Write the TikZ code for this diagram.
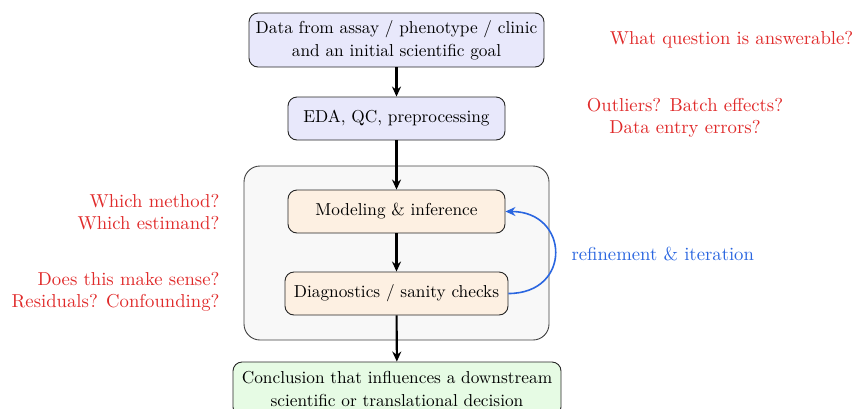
\documentclass[tikz,border=0pt]{standalone}
\usepackage{fontspec}
\setmainfont{lmroman10-regular.otf}
\usetikzlibrary{arrows.meta}
\definecolor{bluebox}{HTML}{E8E8FB}
\definecolor{orangebox}{HTML}{FDF0E2}
\definecolor{greenbox}{HTML}{E6FBE4}
\definecolor{graybox}{HTML}{F8F8F8}
\definecolor{redtxt}{HTML}{E02A2A}
\definecolor{bluetxt}{HTML}{2A66E0}
\begin{document}
\begin{tikzpicture}[x=1pt,y=-1pt,
  every node/.style={font=\fontsize{17.3}{23}\selectfont},
  stepbox/.style={draw=black!85, line width=0.9pt, rounded corners=9pt, align=center, inner sep=0pt},
  flow/.style={line width=2.1pt, -{Stealth[length=10pt,width=9pt]}},
  note/.style={text=redtxt, font=\fontsize{18.7}{22.5}\selectfont},
  ]
\useasboundingbox (0,0) rectangle (854,408);
\node[draw=black!75, line width=0.9pt, fill=graybox, rounded corners=16pt, minimum width=305pt, minimum height=174pt, inner sep=0pt] (frame) at (396.5,253) {};
\node[stepbox, fill=bluebox, minimum width=295pt, minimum height=54pt] (data) at (396.5,40) {Data from assay / phenotype / clinic\\and an initial scientific goal};
\node[stepbox, fill=bluebox, minimum width=217pt, minimum height=43pt] (eda) at (396.5,118.5) {EDA, QC, preprocessing};
\node[stepbox, fill=orangebox, minimum width=217pt, minimum height=43pt] (model) at (396.5,211.5) {Modeling \& inference};
\node[stepbox, fill=orangebox, minimum width=223pt, minimum height=43pt] (diag) at (396.5,293.5) {Diagnostics / sanity checks};
\node[stepbox, fill=greenbox, minimum width=328pt, minimum height=54pt] (concl) at (397,389) {Conclusion that influences a downstream\\scientific or translational decision};
\draw[flow] (data) -- (eda);
\draw[flow] (eda) -- (model);
\draw[flow] (model) -- (diag);
\draw[flow] (diag) -- (concl);
\draw[bluetxt, line width=1.6pt, -{Stealth[length=10pt,width=9pt]}] (diag.east) .. controls +(64,0) and +(64,0) .. (model.east);
\node[text=bluetxt, anchor=west, font=\fontsize{18.7}{24}\selectfont] (refine) at (568,254) {refinement \& iteration};
\node[note] (q1) at (731.5,40) {What question is answerable?};
\node[note, align=center] (q2) at (685,118) {Outliers? Batch effects?\\Data entry errors?};
\node[note, align=right, anchor=east] (q3) at (223,212) {Which method?\\Which estimand?};
\node[note, align=right, anchor=east] (q4) at (223,292) {Does this make sense?\\Residuals? Confounding?};
\end{tikzpicture}
\end{document}
